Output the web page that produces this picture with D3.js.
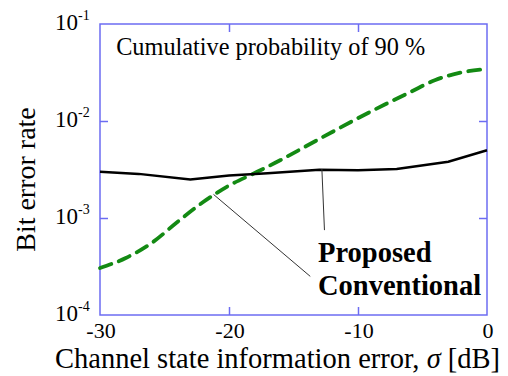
<!DOCTYPE html>
<html>
<head>
<meta charset="utf-8">
<script src="https://cdn.jsdelivr.net/npm/d3@7"></script>
<style>
  body { margin: 0; background: #fff; }
  svg { display: block; }
  text { font-family: "Liberation Serif", "Times New Roman", serif; fill: #000; }
</style>
</head>
<body>
<svg id="chart"></svg>
<script>
var WIDTH = 508;
var HEIGHT = 376;

// channel state information error, dB
var sigmaProposed = [-30, -27, -23, -20, -17, -13, -10, -7, -3, 0];
var berProposed = [3.0e-3, 2.85e-3, 2.5e-3, 2.75e-3, 2.9e-3, 3.15e-3, 3.1e-3, 3.2e-3, 3.8e-3, 5.0e-3];

var sigmaConventional = [-30, -28, -26, -24, -22, -20, -18, -16, -14, -12, -10, -8, -6, -4, -2, 0];
var berConventional = [3.05e-4, 3.87e-4, 5.52e-4, 9.1e-4, 1.46e-3, 2.16e-3, 2.91e-3, 3.96e-3,
  5.52e-3, 7.7e-3, 1.07e-2, 1.46e-2, 1.97e-2, 2.65e-2, 3.16e-2, 3.44e-2];

var xTicks = [-30, -20, -10, 0];
var yTicks = [1e-4, 1e-3, 1e-2, 1e-1];
var yTickExp = ['-4', '-3', '-2', '-1'];

var margin = { top: 24, right: 21, bottom: 61, left: 100 };

var svg = d3.select('#chart')
  .attr('width', WIDTH)
  .attr('height', HEIGHT);

var xScale = d3.scaleLinear()
  .domain([-30, 0])
  .range([margin.left, WIDTH - margin.right]);

var yScale = d3.scaleLog()
  .domain([1e-4, 1e-1])
  .range([HEIGHT - margin.bottom, margin.top]);

var frameColor = '#6c6cf2';

// inner ticks on all four sides
var bottomAxis = d3.axisBottom(xScale).tickValues([-20, -10]).tickSizeInner(-8).tickSizeOuter(0).tickFormat('');
var topAxis = d3.axisTop(xScale).tickValues([-20, -10]).tickSizeInner(-8).tickSizeOuter(0).tickFormat('');
var leftAxis = d3.axisLeft(yScale).tickValues([1e-3, 1e-2]).tickSizeInner(-8).tickSizeOuter(0).tickFormat('');
var rightAxis = d3.axisRight(yScale).tickValues([1e-3, 1e-2]).tickSizeInner(-8).tickSizeOuter(0).tickFormat('');

var axes = [
  { axis: bottomAxis, t: 'translate(0,' + yScale(1e-4) + ')' },
  { axis: topAxis, t: 'translate(0,' + yScale(1e-1) + ')' },
  { axis: leftAxis, t: 'translate(' + xScale(-30) + ',0)' },
  { axis: rightAxis, t: 'translate(' + xScale(0) + ',0)' }
];
axes.forEach(function(a) {
  var g = svg.append('g').attr('transform', a.t).call(a.axis);
  g.select('.domain').remove();
  g.selectAll('line').attr('stroke', frameColor).attr('stroke-width', 1.5);
});

// plot frame
svg.append('rect')
  .attr('x', xScale(-30))
  .attr('y', yScale(1e-1))
  .attr('width', xScale(0) - xScale(-30))
  .attr('height', yScale(1e-4) - yScale(1e-1))
  .attr('fill', 'none')
  .attr('stroke', frameColor)
  .attr('stroke-width', 1.5);

// x tick labels
svg.selectAll('.xlabel')
  .data(xTicks)
  .enter()
  .append('text')
  .attr('class', 'xlabel')
  .attr('x', function(d) { return xScale(d) + 1; })
  .attr('y', yScale(1e-4) + 23)
  .attr('text-anchor', 'middle')
  .style('font-size', '22px')
  .text(function(d) { return String(d); });

// y tick labels: 10 with superscript exponent
var yLabels = svg.selectAll('.ylabel')
  .data(yTicks)
  .enter()
  .append('text')
  .attr('class', 'ylabel')
  .attr('x', 55)
  .attr('y', function(d) { return yScale(d) + 6; })
  .style('font-size', '23px');
yLabels.append('tspan').text('10');
yLabels.append('tspan')
  .attr('dy', -10)
  .style('font-size', '14px')
  .text(function(d, i) { return yTickExp[i]; });

var line = d3.line()
  .x(function(d) { return xScale(d[0]); })
  .y(function(d) { return yScale(d[1]); });

var conventional = d3.zip(sigmaConventional, berConventional);
var proposed = d3.zip(sigmaProposed, berProposed);

svg.append('path')
  .datum(conventional)
  .attr('fill', 'none')
  .attr('stroke', '#138a13')
  .attr('stroke-width', 3.8)
  .attr('stroke-dasharray', '12,8')
  .attr('stroke-linecap', 'round')
  .attr('d', line.curve(d3.curveMonotoneX));

svg.append('path')
  .datum(proposed)
  .attr('fill', 'none')
  .attr('stroke', '#000')
  .attr('stroke-width', 2.5)
  .attr('d', line.curve(d3.curveLinear));

// leader lines from curves to labels
var leaders = [
  [[-12.8, 3.2e-3], [-12.6, 7.5e-4]],
  [[-21.2, 1.75e-3], [-13.7, 2.5e-4]]
];
svg.selectAll('.leader')
  .data(leaders)
  .enter()
  .append('line')
  .attr('class', 'leader')
  .attr('x1', function(d) { return xScale(d[0][0]); })
  .attr('y1', function(d) { return yScale(d[0][1]); })
  .attr('x2', function(d) { return xScale(d[1][0]); })
  .attr('y2', function(d) { return yScale(d[1][1]); })
  .attr('stroke', '#333')
  .attr('stroke-width', 1);

svg.append('text')
  .attr('x', xScale(-13.1))
  .attr('y', yScale(3.5e-4))
  .style('font-size', '28.5px')
  .style('font-weight', 'bold')
  .text('Proposed');

svg.append('text')
  .attr('x', xScale(-13.1))
  .attr('y', yScale(1.6e-4))
  .style('font-size', '28.5px')
  .style('font-weight', 'bold')
  .text('Conventional');

svg.append('text')
  .attr('x', xScale(-28.75))
  .attr('y', yScale(4.8e-2))
  .style('font-size', '24.3px')
  .text('Cumulative probability of 90 %');

// axis titles
var xTitle = svg.append('text')
  .attr('x', 55)
  .attr('y', 368)
  .style('font-size', '28.5px');
xTitle.append('tspan').text('Channel state information error, ');
xTitle.append('tspan').style('font-style', 'italic').text('σ');
xTitle.append('tspan').text(' [dB]');

svg.append('text')
  .attr('transform', 'translate(35,' + ((yScale(1e-1) + yScale(1e-4)) / 2 + 10) + ') rotate(-90)')
  .attr('text-anchor', 'middle')
  .style('font-size', '28px')
  .text('Bit error rate');
</script>
</body>
</html>
